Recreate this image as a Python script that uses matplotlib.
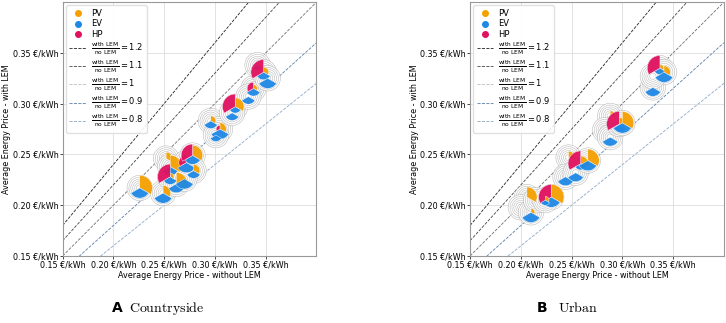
import matplotlib
matplotlib.use("Agg")
import matplotlib.pyplot as plt
from matplotlib.lines import Line2D
from matplotlib.patches import Circle, Wedge

PV_C, EV_C, HP_C = "#f5a000", "#1e88e5", "#e0115f"
RING_R = 0.0125   # glyph radius in data units (€/kWh)

# ratio lines (with LEM / no LEM)
RATIOS = [1.2, 1.1, 1, 0.9, 0.8]
RATIO_COLORS = ["#222222", "#444444", "#707070", "#5b7fa8", "#8ea8c8"]
RATIO_LEGEND_COLORS = ["#222222", "#444444", "#bbbbbb", "#5b7fa8", "#8ea8c8"]

TICKS = [0.15, 0.20, 0.25, 0.30, 0.35]
TICK_LABELS = ["0.15 €/kWh", "0.20 €/kWh", "0.25 €/kWh", "0.30 €/kWh", "0.35 €/kWh"]

# ── Countryside: price without LEM, price with LEM, wedge size PV / EV / HP ──
cs_x = [0.226, 0.249, 0.252, 0.256, 0.256, 0.262, 0.272, 0.278, 0.279, 0.270,
        0.296, 0.305, 0.301, 0.320, 0.317, 0.338, 0.333, 0.342, 0.348, 0.352]
cs_y = [0.217, 0.212, 0.246, 0.238, 0.228, 0.221, 0.242, 0.249, 0.234, 0.226,
        0.283, 0.275, 0.269, 0.297, 0.291, 0.315, 0.307, 0.338, 0.331, 0.325]
cs_pv = [1.0, 0.6, 0.5, 0.9, 0.3, 0.9, 0.3, 0.8, 0.5, 0.0,
         0.4, 0.5, 0.0, 0.7, 0.0, 0.3, 0.0, 0.0, 0.4, 0.0]
cs_ev = [0.8, 0.8, 0.0, 0.7, 0.6, 0.7, 0.8, 0.7, 0.6, 0.8,
         0.6, 0.8, 0.5, 0.5, 0.6, 0.6, 0.6, 0.4, 0.6, 0.8]
cs_hp = [0.0, 0.0, 0.0, 0.0, 1.0, 0.0, 0.6, 0.9, 0.0, 0.0,
         0.0, 0.3, 0.0, 1.0, 0.0, 0.5, 0.0, 0.0, 1.0, 0.0]

# ── Urban ──
ur_x = [0.206, 0.200, 0.210, 0.215, 0.230, 0.224, 0.247, 0.244, 0.259, 0.254,
        0.266, 0.288, 0.283, 0.288, 0.297, 0.300, 0.330, 0.337, 0.341, 0.330]
ur_y = [0.208, 0.198, 0.193, 0.205, 0.208, 0.205, 0.247, 0.228, 0.241, 0.232,
        0.244, 0.288, 0.274, 0.267, 0.280, 0.281, 0.316, 0.335, 0.331, 0.327]
ur_pv = [0.8, 0.0, 0.3, 0.0, 1.0, 0.3, 0.5, 0.0, 0.6, 0.0,
         0.9, 0.4, 0.0, 0.0, 0.5, 0.9, 0.0, 0.3, 0.5, 0.0]
ur_ev = [0.0, 0.0, 0.8, 0.0, 0.8, 0.4, 0.0, 0.7, 0.5, 0.7,
         0.8, 0.0, 0.0, 0.7, 0.6, 0.8, 0.7, 0.5, 0.8, 0.0]
ur_hp = [0.0, 0.0, 0.0, 0.0, 1.0, 0.0, 0.0, 0.0, 1.0, 0.0,
         0.0, 0.0, 0.0, 0.0, 1.0, 0.0, 0.0, 1.0, 0.0, 0.0]

plt.rcParams.update({"font.family": "DejaVu Sans", "font.size": 5.8,
                     "mathtext.fontset": "dejavusans"})


def draw_glyph(ax, x, y, pv, ev, hp):
    # concentric reference rings
    for f in (1.0, 0.85, 0.7, 0.55, 0.4, 0.25):
        ax.add_patch(Circle((x, y), RING_R * f, facecolor=(1, 1, 1, 0.2),
                            edgecolor="#a0a0a0", lw=0.35, alpha=0.8, zorder=3))
    for share, t1, t2, col in ((pv, -30, 90, PV_C), (ev, 210, 330, EV_C), (hp, 90, 210, HP_C)):
        if share > 0:
            ax.add_patch(Wedge((x, y), RING_R * share, t1, t2, facecolor=col,
                               edgecolor="white", lw=0.3, alpha=0.95, zorder=4))


def panel(ax, xs, ys, pvs, evs, hps):
    ax.set_xlim(0.15, 0.40)
    ax.set_ylim(0.15, 0.40)
    ax.set_aspect("equal")
    ax.grid(color="#dddddd", lw=0.6, zorder=0)
    for k, col in zip(RATIOS, RATIO_COLORS):
        ax.plot([0.15, 0.40], [0.15 * k, 0.40 * k], ls="--", lw=0.6, color=col, zorder=2)
    for x, y, pv, ev, hp in zip(xs, ys, pvs, evs, hps):
        draw_glyph(ax, x, y, pv, ev, hp)
    ax.set_xticks(TICKS, TICK_LABELS)
    ax.set_yticks(TICKS, TICK_LABELS)
    ax.tick_params(length=2, width=0.5, pad=1)
    for s in ax.spines.values():
        s.set_color("#999999")
        s.set_linewidth(0.8)
    ax.set_xlabel("Average Energy Price - without LEM", labelpad=1)
    ax.set_ylabel("Average Energy Price - with LEM", labelpad=1)

    handles = [Line2D([], [], ls="", marker="o", ms=4, color=c) for c in (PV_C, EV_C, HP_C)]
    labels = ["PV", "EV", "HP"]
    for k, col in zip(RATIOS, RATIO_LEGEND_COLORS):
        handles.append(Line2D([], [], ls="--", lw=0.6, color=col))
        labels.append(r"$\frac{\mathrm{with\ LEM}}{\mathrm{no\ LEM}} = %s$" % k)
    ax.legend(handles, labels, loc="upper left", fontsize=6, handlelength=2.0,
              handletextpad=0.6, labelspacing=0.2, borderaxespad=0.4, borderpad=0.4,
              framealpha=0.9, edgecolor="#dddddd")


fig = plt.figure(figsize=(7.26, 3.23), dpi=100)
ax_a = fig.add_axes([0.0854, 0.2074, 0.3512, 0.786])
ax_b = fig.add_axes([0.646, 0.2074, 0.3526, 0.786])
panel(ax_a, cs_x, cs_y, cs_pv, cs_ev, cs_hp)
panel(ax_b, ur_x, ur_y, ur_pv, ur_ev, ur_hp)

plt.rcParams["mathtext.fontset"] = "cm"
fig.text(0.154, 0.035, "A", fontsize=10, fontweight="bold", ha="left", va="baseline")
fig.text(0.177, 0.035, r"$\mathrm{Countryside}$", fontsize=10, ha="left", va="baseline")
fig.text(0.739, 0.035, "B", fontsize=10, fontweight="bold", ha="left", va="baseline")
fig.text(0.768, 0.035, r"$\mathrm{Urban}$", fontsize=10, ha="left", va="baseline")

fig.savefig("out.png", dpi=100)
